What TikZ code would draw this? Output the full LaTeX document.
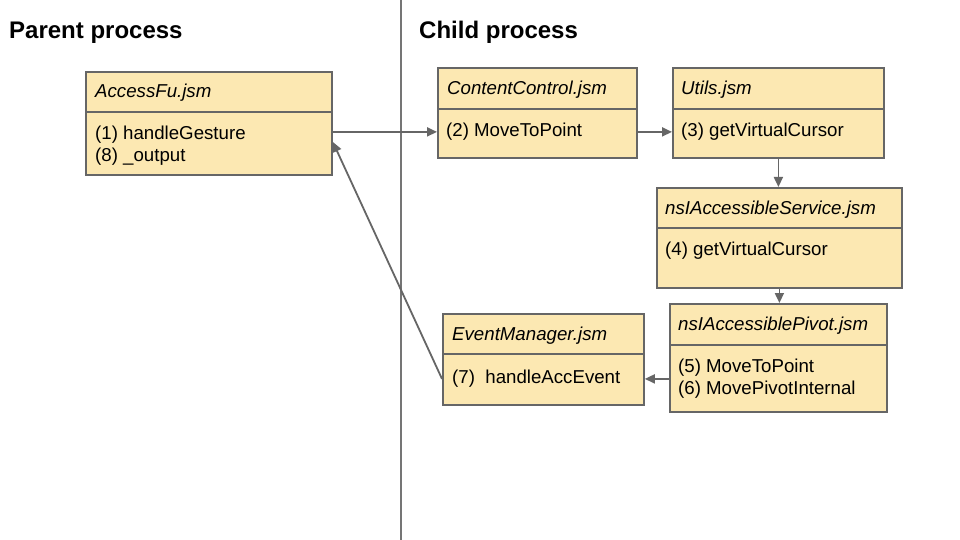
\documentclass[tikz,border=0pt]{standalone}
\usepackage{fontspec}
\setmainfont{Liberation Sans}
\usetikzlibrary{arrows.meta,calc}
\definecolor{boxfill}{HTML}{FCE8B2}
\definecolor{boxline}{HTML}{666666}
\definecolor{connline}{HTML}{666666}
\definecolor{sepline}{HTML}{757575}
\begin{document}
\begin{tikzpicture}[x=1pt,y=-1pt,
  umlbox/.style={draw=boxline,fill=boxfill,line width=1.8pt,inner sep=0,anchor=north west},
  divline/.style={draw=boxline,line width=1.8pt},
  hdr/.style={font=\fontsize{18.67}{22}\selectfont\itshape,anchor=base west,inner sep=0},
  bodytxt/.style={font=\fontsize{18.67}{22}\selectfont,anchor=north west,inner sep=0,align=left},
  ttl/.style={font=\fontsize{24}{28}\selectfont\bfseries,anchor=base west,inner sep=0},
  conn/.style={draw=connline,line width=1.8pt,-{Triangle[length=10pt,width=9pt]}}]
\useasboundingbox (0,0) rectangle (960,540);
\fill[white] (0,0) rectangle (960,540);

% separator
\coordinate (septop) at (401,0);
\coordinate (sepbot) at (401,540);
\draw[sepline,line width=1.8pt] (septop) -- (sepbot);

% titles
\node[ttl] (tparent) at (9,39) {Parent process};
\node[ttl] (tchild) at (419,39) {Child process};

% AccessFu
\node[umlbox,minimum width=246pt,minimum height=103pt] (acc) at (85,71) {};
\draw[divline] (acc.west |- 0,112) -- (acc.east |- 0,112);
\node[hdr] (acc-t) at (95,98) {AccessFu.jsm};
\node[bodytxt] (acc-b) at (95,126) {(1) handleGesture\\(8) \_output};

% ContentControl
\node[umlbox,minimum width=199pt,minimum height=90pt] (cc) at (437,67) {};
\draw[divline] (cc.west |- 0,109) -- (cc.east |- 0,109);
\node[hdr] (cc-t) at (447,94.5) {ContentControl.jsm};
\node[bodytxt] (cc-b) at (446,123) {(2) MoveToPoint};

% Utils
\node[umlbox,minimum width=211pt,minimum height=90pt] (ut) at (672,67) {};
\draw[divline] (ut.west |- 0,109) -- (ut.east |- 0,109);
\node[hdr] (ut-t) at (681,94.5) {Utils.jsm};
\node[bodytxt] (ut-b) at (681,123) {(3) getVirtualCursor};

% nsIAccessibleService
\node[umlbox,minimum width=245pt,minimum height=100pt] (svc) at (656,187) {};
\draw[divline] (svc.west |- 0,228) -- (svc.east |- 0,228);
\node[hdr] (svc-t) at (665,214) {nsIAccessibleService.jsm};
\node[bodytxt] (svc-b) at (665,242) {(4) getVirtualCursor};

% nsIAccessiblePivot
\node[umlbox,minimum width=217pt,minimum height=108pt] (piv) at (669,303) {};
\draw[divline] (piv.west |- 0,345) -- (piv.east |- 0,345);
\node[hdr] (piv-t) at (678,330.5) {nsIAccessiblePivot.jsm};
\node[bodytxt] (piv-b) at (678,359) {(5) MoveToPoint\\(6) MovePivotInternal};

% EventManager
\node[umlbox,minimum width=201pt,minimum height=91pt] (em) at (442,313) {};
\draw[divline] (em.west |- 0,354) -- (em.east |- 0,354);
\node[hdr] (em-t) at (452,340) {EventManager.jsm};
\node[bodytxt] (em-b) at (452,370) {(7)\ \ handleAccEvent};

% connectors
\draw[conn] (acc.east |- cc-b) -- (cc.west |- cc-b);
\draw[conn] (cc.east |- cc-b) -- (ut.west |- cc-b);
\draw[conn] (ut.south) -- (ut.south |- svc.north);
\draw[conn] (svc.south) -- (svc.south |- piv.north);
\draw[conn] (piv.west |- em-b) -- (em.east |- em-b);
\draw[conn] (em.west |- em-b) -- ([yshift=4pt]acc.east |- acc-b);
\end{tikzpicture}
\end{document}
